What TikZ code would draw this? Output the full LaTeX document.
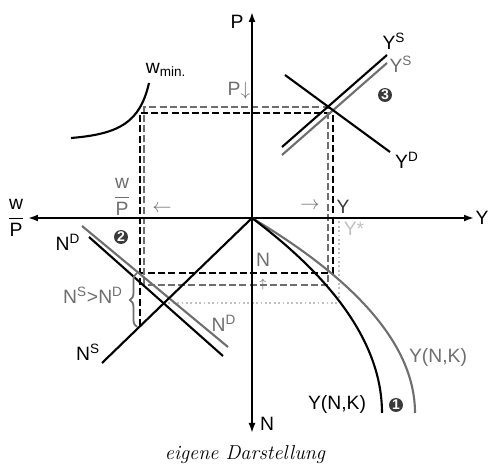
\documentclass[tikz,border=0pt]{standalone}
\usepackage{fontspec}
\setsansfont{Liberation Sans}
\usetikzlibrary{arrows.meta, decorations.pathreplacing}
\definecolor{cdark}{HTML}{3A3A3A}
\definecolor{cgrey}{HTML}{6E6E6E}
\definecolor{clight}{HTML}{C0C0C0}
\tikzset{
  every picture/.style={font=\sffamily\fontsize{11}{13}\selectfont, line width=1.1pt},
  axis/.style={{Latex[length=2mm,width=1.4mm]}-{Latex[length=2mm,width=1.4mm]}, draw=black},
  curve/.style={draw=#1, line width=1.2pt},
  curve/.default=black,
  guide/.style={draw=#1, dash pattern=on 4pt off 1.8pt, line width=1.1pt},
  guide/.default=black,
  hint/.style={draw=clight, dash pattern=on 1pt off 1.5pt, line width=1.3pt},
  lab/.style={text=#1, inner sep=1pt},
  lab/.default=black,
  num/.style={circle, fill=cdark, text=white, font=\sffamily\bfseries\footnotesize, inner sep=0pt, minimum size=0.28cm},
}

\begin{document}
\begin{tikzpicture}[x=0.02cm, y=-0.02cm,
  shiftbrace/.style={draw=cgrey, line width=1pt, decorate, decoration={brace, amplitude=4pt}}]
  \useasboundingbox (0,0) rectangle (488,476);
  % axes
  \coordinate (O) at (252,218);
  \coordinate (Ptop) at (252,12);
  \coordinate (Nbot) at (252,433);
  \coordinate (WPend) at (28,218);
  \coordinate (Yend) at (474,218);
  % guide lines
  \draw[hint] (164,303) -- (339,303) -- (339,220);
  \draw[guide] (140,326) -- (140,113) -- (333,113) -- (333,273) -- (140,273);
  \draw[guide=cgrey] (144,285) -- (144,107) -- (328,107) -- (328,285) -- cycle;
  \draw[axis] (WPend) -- (Yend);
  \draw[axis] (Nbot) -- (Ptop);
  \node[lab] (Plab) at (237,22) {P};
  \node[lab] (Ylab) at (482,218) {Y};
  \node[lab] (Nlab) at (267,424) {N};
  \node[lab] (WPlab) at (16,218) {$\displaystyle\frac{\hbox{w}}{\hbox{P}}$};
  % quadrant 3: goods market
  \coordinate (YSa) at (282,147);  \coordinate (YSb) at (387,55);
  \coordinate (YSga) at (282,155); \coordinate (YSgb) at (387,63);
  \coordinate (YDa) at (285,75);   \coordinate (YDb) at (390,152);
  \draw[curve=cgrey] (YSga) -- (YSgb);
  \draw[curve] (YSa) -- (YSb);
  \draw[curve] (YDa) -- (YDb);
  \node[lab] (YSlab) at (394,41) {Y\textsuperscript{S}};
  \node[lab=cgrey] (YSglab) at (401,64) {Y\textsuperscript{S}};
  \node[lab] (YDlab) at (407,160) {Y\textsuperscript{D}};
  \node[num] (n3) at (385,95) {3};
  % minimum wage
  \coordinate (Wa) at (71,138); \coordinate (Wb) at (149,83);
  \draw[curve] (Wa) .. controls (120,134) and (140,122) .. (Wb);
  \node[lab] (wmin) at (166,70) {w\textsubscript{min.}};
  \node[lab=cgrey] (Pdown) at (239,91) {P$\downarrow$};
  \node[lab=cgrey] (WPg) at (122,197) {$\displaystyle\frac{\hbox{w}}{\hbox{P}}$};
  \node[lab=cgrey] (WParr) at (162,209) {$\leftarrow$};
  \node[lab=cgrey] (Yarr) at (310,206) {$\rightarrow$};
  \node[lab=cdark] (Ynew) at (343,207) {Y};
  \node[lab=clight] (Ystar) at (354,229) {Y*};
  \node[lab=cgrey] (Nnew) at (263,260) {N};
  \node[lab=cgrey, font=\scriptsize] (Narr) at (263,284) {$\uparrow$};
  % labour market
  \coordinate (NDga) at (82,226);  \coordinate (NDgb) at (228,347);
  \coordinate (NDa) at (89,237);   \coordinate (NDb) at (223,356);
  \coordinate (NSa) at (102,363);
  \draw[curve=cgrey] (NDga) -- (NDgb);
  \draw[curve] (NDa) -- (NDb);
  \draw[curve] (NSa) -- (O);
  \draw[shiftbrace] (137,327) -- (137,273);
  \node[lab] (NDlab) at (68,242) {N\textsuperscript{D}};
  \node[lab] (NSlab) at (88,352) {N\textsuperscript{S}};
  \node[lab=cgrey] (NDglab) at (224,323) {N\textsuperscript{D}};
  \node[lab=cgrey] (gap) at (93,295) {N\textsuperscript{S}>N\textsuperscript{D}};
  \node[num] (n2) at (121,237) {2};
  % production function
  \coordinate (YNa) at (382,413); \coordinate (YNga) at (415,413);
  \draw[curve=cgrey] (O) .. controls (360.7,283) and (415,348) .. (YNga);
  \draw[curve] (O) .. controls (338.7,283) and (382,348) .. (YNa);
  \node[lab] (YNlab) at (337,405) {Y(N,K)};
  \node[lab=cgrey] (YNglab) at (438,358) {Y(N,K)};
  \node[num] (n1) at (396,405) {1};
  \node[font=\rmfamily\itshape\fontsize{11.5}{13}\selectfont] (cap) at (245,455) {eigene Darstellung};
\end{tikzpicture}
\end{document}
